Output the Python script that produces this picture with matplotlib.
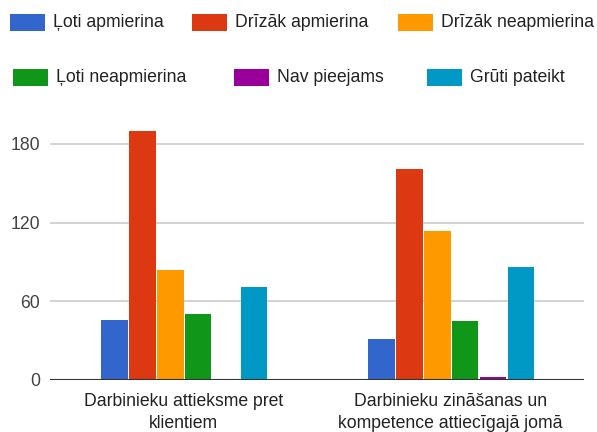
import matplotlib
matplotlib.use("Agg")  # headless backend
import matplotlib.pyplot as plt
from matplotlib.patches import Rectangle
import numpy as np

categories = ["Darbinieku attieksme pret\nklientiem",
              "Darbinieku zināšanas un\nkompetence attiecīgajā jomā"]
series = ["Ļoti apmierina", "Drīzāk apmierina", "Drīzāk neapmierina",
          "Ļoti neapmierina", "Nav pieejams", "Grūti pateikt"]
values = [
    [46, 31],    # Ļoti apmierina
    [190, 161],  # Drīzāk apmierina
    [84, 114],   # Drīzāk neapmierina
    [50, 45],    # Ļoti neapmierina
    [0, 2.5],    # Nav pieejams
    [71, 86],    # Grūti pateikt
]
yticks = [0, 60, 120, 180]

colors = ["#3366cc", "#dc3912", "#ff9900", "#109618", "#990099", "#0099c6"]

plt.rcParams["font.family"] = ["Liberation Sans", "DejaVu Sans"]
FS = 12.7

W, H = 597, 432
fig = plt.figure(figsize=(W / 100, H / 100), dpi=100)

# axes box in pixels (left, top, right, bottom)
left, right, bottom = 50, 584, 380
ymax = 192
px_per_unit = (380 - 144) / 180.0
top = bottom - ymax * px_per_unit
ax = fig.add_axes([left / W, 1 - bottom / H, (right - left) / W, (bottom - top) / H])

x = np.arange(len(categories))
step = 0.1045
width = 0.099
n = len(series)
for i, (name, vals) in enumerate(zip(series, values)):
    offs = (i - (n - 1) / 2) * step
    ax.bar(x + offs + 0.003, vals, width=width, color=colors[i], label=name, zorder=3)

ax.set_xlim(-0.5, 1.5)
ax.set_ylim(0, ymax)
ax.set_yticks(yticks)
ax.set_yticklabels([str(t) for t in yticks], fontsize=FS, color="#444444")
ax.set_xticks(x)
ax.set_xticklabels(categories, fontsize=FS, color="#222222", linespacing=1.45)
ax.tick_params(axis="both", length=0)
ax.tick_params(axis="y", pad=7)
ax.tick_params(axis="x", pad=9)
ax.grid(axis="y", color="#cccccc", linewidth=1.2, zorder=0)
ax.axhline(0, color="#333333", linewidth=1.5, zorder=4)
for s in ax.spines.values():
    s.set_visible(False)

# legend laid out in two rows
legend_pos = [
    (10, 14), (192, 14), (398, 14),
    (13, 69), (234, 69), (427, 69),
]
for (px, py), name, c in zip(legend_pos, series, colors):
    fig.add_artist(Rectangle((px / W, 1 - (py + 17) / H), 35 / W, 17 / H,
                             transform=fig.transFigure, facecolor=c,
                             edgecolor="none"))
    fig.text((px + 43) / W, 1 - (py + 8.5) / H, name, fontsize=FS,
             color="#222222", va="center", ha="left")

fig.savefig("out.png", dpi=100)
